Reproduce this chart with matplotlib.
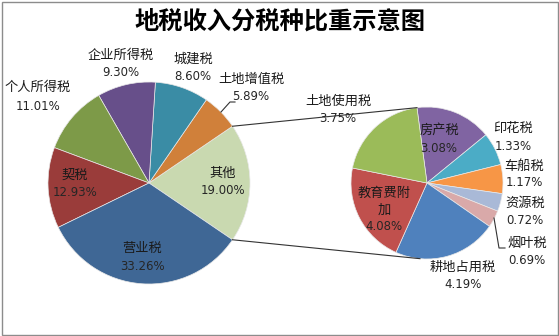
import numpy as np
import matplotlib
matplotlib.use("Agg")
import matplotlib.pyplot as plt
from matplotlib.patches import Rectangle

plt.rcParams['font.family'] = ['Noto Sans CJK SC', 'DejaVu Sans']

# Main pie: the "其他" share is broken out into the secondary pie
main_labels = ['其他', '土地增值税', '城建税', '企业所得税', '个人所得税', '契税', '营业税']
main_values = [19.00, 5.89, 8.60, 9.30, 11.01, 12.93, 33.26]
main_colors = ['#C9D9B0', '#D0803A', '#3A8CA5', '#674F8A', '#7D9A48', '#9A3C3A', '#3F6795']

sub_labels = ['房产税', '印花税', '车船税', '资源税', '烟叶税', '耕地占用税', '教育费附加', '土地使用税']
sub_values = [3.08, 1.33, 1.17, 0.72, 0.69, 4.19, 4.08, 3.75]
sub_colors = ['#8064A2', '#4BACC6', '#F79646', '#A9B9D7', '#D9A9A9', '#4F81BD', '#C0504D', '#9BBB59']

W, H = 559, 336
fig = plt.figure(figsize=(W / 100, H / 100), dpi=100)
ax = fig.add_axes([0, 0, 1, 1])

def py(y):
    # pixel row measured from the top -> data y
    return H - y

main_c = (149, py(183))
main_r = 101
sub_c = (427, py(183))
sub_r = 76

main_start = -main_values[0] * 3.6 / 2
ax.pie(main_values, colors=main_colors, startangle=main_start, counterclock=True,
       center=main_c, radius=main_r, frame=True,
       wedgeprops=dict(edgecolor='#E8E8E8', linewidth=0.5))
ax.pie(sub_values, colors=sub_colors, startangle=97.6, counterclock=False,
       center=sub_c, radius=sub_r, frame=True,
       wedgeprops=dict(edgecolor='#E8E8E8', linewidth=0.5))
ax.set_xlim(0, W)
ax.set_ylim(0, H)
ax.set_aspect('equal')
ax.axis('off')

# Connector lines between the split wedge and the secondary pie
half = np.deg2rad(-main_start)
p_top = (main_c[0] + main_r * np.cos(half), main_c[1] + main_r * np.sin(half))
p_bot = (main_c[0] + main_r * np.cos(half), main_c[1] - main_r * np.sin(half))
a_top, a_bot = np.deg2rad(97.6), np.deg2rad(-95.3)
s_top = (sub_c[0] + sub_r * np.cos(a_top), sub_c[1] + sub_r * np.sin(a_top))
s_bot = (sub_c[0] + sub_r * np.cos(a_bot), sub_c[1] + sub_r * np.sin(a_bot))
ax.plot([p_top[0], s_top[0]], [p_top[1], s_top[1]], color='#333333', lw=0.8, zorder=5)
ax.plot([p_bot[0], s_bot[0]], [p_bot[1], s_bot[1]], color='#333333', lw=0.8, zorder=5)

# Leader lines for small wedges
ax.plot([221, 230, 235], [py(112), py(102), py(102)], color='#333333', lw=0.8, zorder=5)
ax.plot([494, 499, 505], [py(218), py(248), py(248)], color='#333333', lw=0.8, zorder=5)

name_fs = 9.5
pct_fs = 8.5
tc = '#1A1A1A'

def label(name, value, x, yn, yp):
    ax.text(x, py(yn), name, ha='center', va='center', fontsize=name_fs, color=tc, zorder=6)
    ax.text(x, py(yp), f'{value:.2f}%', ha='center', va='center', fontsize=pct_fs,
            color='#262626', family='DejaVu Sans', zorder=6)

main_pos = {
    '其他': (223, 173, 190),
    '土地增值税': (251, 79, 97),
    '城建税': (193, 59, 76),
    '企业所得税': (121, 55, 73),
    '个人所得税': (38, 87, 107),
    '契税': (75, 175, 193),
    '营业税': (142, 248, 266),
}
for n, v in zip(main_labels, main_values):
    x, yn, yp = main_pos[n]
    label(n, v, x, yn, yp)

sub_pos = {
    '房产税': (439, 130, 148),
    '印花税': (513, 128, 146),
    '车船税': (524, 166, 183),
    '资源税': (525, 203, 220),
    '烟叶税': (527, 243, 261),
    '耕地占用税': (463, 267, 285),
    '土地使用税': (338, 101, 118),
}
for n, v in zip(sub_labels, sub_values):
    if n == '教育费附加':
        ax.text(384, py(193), '教育费附', ha='center', va='center', fontsize=name_fs, color=tc, zorder=6)
        ax.text(384, py(210), '加', ha='center', va='center', fontsize=name_fs, color=tc, zorder=6)
        ax.text(384, py(227), f'{v:.2f}%', ha='center', va='center', fontsize=pct_fs,
                color='#262626', family='DejaVu Sans', zorder=6)
    else:
        x, yn, yp = sub_pos[n]
        label(n, v, x, yn, yp)

ax.text(W / 2, py(22), '地税收入分税种比重示意图', ha='center', va='center',
        fontsize=17.5, fontweight='bold', color='black')

# Chart-area border
ax.add_patch(Rectangle((1.5, 1.5), W - 3, H - 3, fill=False, edgecolor='#8C8C8C',
                       lw=1.0, zorder=10))

fig.savefig('out.png', dpi=100)
